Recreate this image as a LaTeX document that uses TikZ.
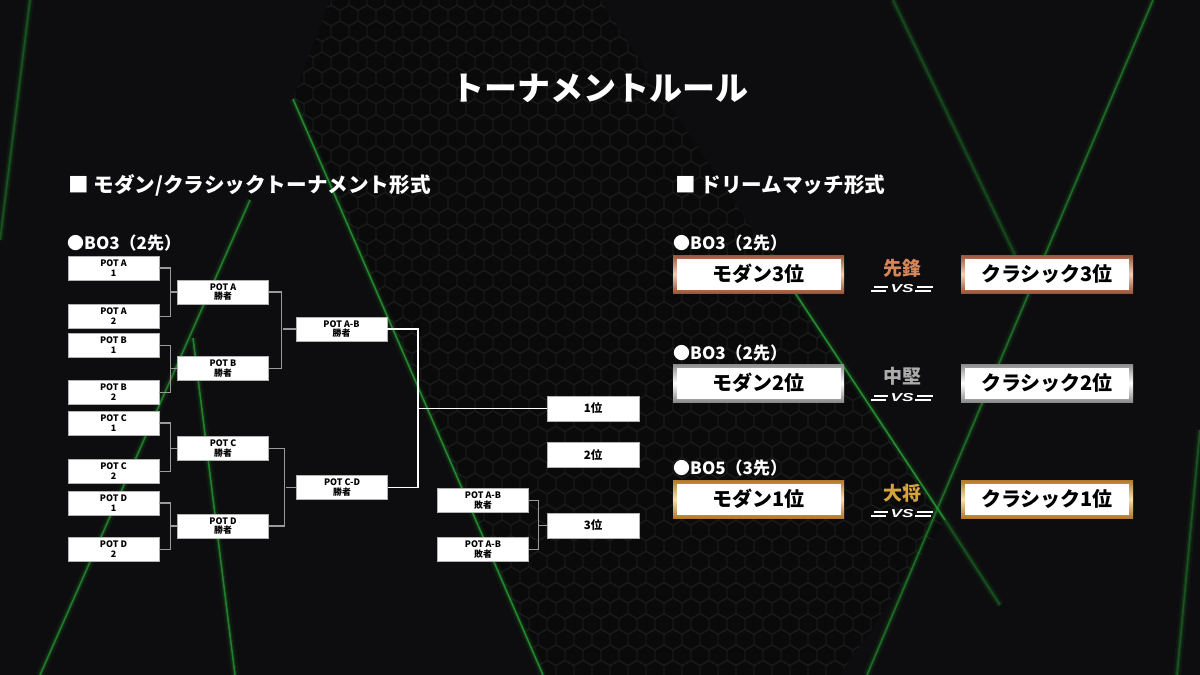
\documentclass[tikz,border=0pt]{standalone}
\usepackage{fontspec}
\usepackage{graphicx}
\setmainfont{Noto Sans CJK JP}
\newfontfamily\vsf{Liberation Sans}
\usetikzlibrary{calc}
\definecolor{bgc}{HTML}{0D0D0F}
\definecolor{hexbg}{HTML}{0A0A0B}
\definecolor{hexln}{HTML}{18191B}
\definecolor{gcore}{HTML}{2C9C36}
\definecolor{gglow}{HTML}{1A6A22}
\definecolor{cpd}{HTML}{9C5537}
\definecolor{cpl}{HTML}{F4CDB6}
\definecolor{svd}{HTML}{8A8A8A}
\definecolor{svl}{HTML}{FFFFFF}
\definecolor{gdd}{HTML}{B07A28}
\definecolor{gdl}{HTML}{F8E2A6}
\definecolor{cptxt}{HTML}{D9855A}
\definecolor{svtxt}{HTML}{ABABAB}
\definecolor{gdtxt}{HTML}{D6A43C}
\definecolor{connc}{HTML}{9A9A9A}
\begin{document}
\begin{tikzpicture}[x=1pt,y=-1pt,
  pbox/.style={draw=gray!60, fill=white, minimum width=91, minimum height=24, inner sep=0, align=center,
    text=black, font=\bfseries\fontsize{8.9}{9.8}\selectfont},
  rbox/.style={draw=gray!60, fill=white, minimum width=92, minimum height=25, inner sep=0,
    text=black, font=\bfseries\fontsize{11.5}{12}\selectfont},
  conn/.style={draw=connc, line width=1.3pt},
  fconn/.style={draw=white, line width=1.6pt},
  mbox/.style={fill=white, minimum width=164, minimum height=31, inner sep=0, text=black,
    font=\bfseries\fontsize{20}{22}\selectfont},
  head/.style={anchor=west, inner sep=0, text=white, font=\bfseries\fontsize{20.6}{22}\selectfont},
  bo/.style={anchor=west, inner sep=0, text=white, font=\bfseries\fontsize{17}{19}\selectfont},
  rank/.style={inner sep=0, font=\bfseries\fontsize{19}{20}\selectfont},
  vs/.style={inner sep=0, text=white, font=\vsf\bfseries\itshape\fontsize{11.5}{12}\selectfont},
  bar/.style={draw=white, line width=1.7pt},
  hexline/.style={draw=hexln, line width=1.3pt},
  gline/.style={draw=gcore, line width=1.5pt,
    preaction={draw=gglow, line width=8pt, opacity=0.12},
    preaction={draw=gglow, line width=4pt, opacity=0.3}}
]
\useasboundingbox (0,0) rectangle (1200,675);
\fill[bgc] (0,0) rectangle (1200,675);

% hexagon texture region
\begin{scope}
  \clip (330,0) -- (293,99) -- (543,675) -- (840,675) -- (945,520) -- (600,0) -- cycle;
  \fill[hexbg] (0,0) rectangle (1200,675);
  \foreach \j in {0,...,44}{
    \draw[hexline] \foreach \i in {0,...,37}{
      ({286+\i*18+mod(\j,2)*9},{\j*15.6}) +(90:10.4) -- +(30:10.4) -- +(-30:10.4)
      -- +(-90:10.4) -- +(-150:10.4) -- +(150:10.4) -- cycle };
  }
\end{scope}

% green light lines
\draw[gline, opacity=0.35] (30,0) -- (0,240);
\draw[gline, opacity=0.8] (293,99) -- (543,675);
\draw[gline, opacity=0.7] (250,200) -- (40,675);
\draw[gline, opacity=0.75] (193,338) -- (235,675);
\draw[gline, opacity=0.55] (1153,0) -- (867,675);
\draw[gline, opacity=0.22] (893,0) -- (1015,255);
\draw[gline, opacity=0.85] (770,255) -- (945,520);
\draw[gline, opacity=0.3] (945,520) -- (1000,605);
\draw[gline, opacity=0.35] (1200,430) -- (1177,675);

% title and headings
\node[inner sep=0, text=white, font=\bfseries\fontsize{33}{38}\selectfont] (title) at (600,88) {トーナメントルール};
\node[head] (hl) at (68,185) {■ モダン/クラシックトーナメント形式};
\node[head] (hr) at (675,185) {■ ドリームマッチ形式};
\node[bo] (bol) at (67,243) {●BO3（2先）};

% bracket round 1
\node[pbox] (a1) at (113.5,268) {POT A\\1};
\node[pbox] (a2) at (113.5,316.5) {POT A\\2};
\node[pbox] (b1) at (113.5,345.5) {POT B\\1};
\node[pbox] (b2) at (113.5,392.5) {POT B\\2};
\node[pbox] (c1) at (113.5,423) {POT C\\1};
\node[pbox] (c2) at (113.5,471.5) {POT C\\2};
\node[pbox] (d1) at (113.5,503) {POT D\\1};
\node[pbox] (d2) at (113.5,549.5) {POT D\\2};
% round 2
\node[pbox] (ra) at (223,292) {POT A\\勝者};
\node[pbox] (rb) at (223,368.5) {POT B\\勝者};
\node[pbox] (rc) at (223,448.5) {POT C\\勝者};
\node[pbox] (rd) at (223,526) {POT D\\勝者};
% round 3
\node[pbox] (ab) at (341.5,329) {POT A-B\\勝者};
\node[pbox] (cd) at (342,487.5) {POT C-D\\勝者};
% placings
\node[rbox] (p1) at (593,408.5) {1位};
\node[rbox] (p2) at (593,455) {2位};
\node[rbox] (p3) at (593,525.5) {3位};
\node[pbox] (l1) at (483,500.5) {POT A-B\\敗者};
\node[pbox] (l2) at (483,549.5) {POT A-B\\敗者};

% connectors round 1 -> 2
\draw[conn] (a1.east) -- ++(11,0) |- (a2.east);
\draw[conn] (ra.west) -- ++(-7,0);
\draw[conn] (b1.east) -- ++(11,0) |- (b2.east);
\draw[conn] (rb.west) -- ++(-7,0);
\draw[conn] (c1.east) -- ++(11,0) |- (c2.east);
\draw[conn] (rc.west) -- ++(-7,0);
\draw[conn] (d1.east) -- ++(11,0) |- (d2.east);
\draw[conn] (rd.west) -- ++(-7,0);
% round 2 -> 3
\draw[conn] (ra.east) -- ++(13,0) |- (rb.east);
\draw[conn] (ab.west) -- ++(-13,0);
\draw[conn] (rc.east) -- ++(16,0) |- (rd.east);
\draw[conn] (cd.west) -- ++(-10,0);
% final
\coordinate (jf) at ([xshift=31]ab.east);
\draw[fconn] (ab.east) -- (jf) |- (cd.east);
\draw[fconn] (p1.west) -- (p1.west -| jf);
% third place
\draw[conn] (l1.east) -- ++(10,0) |- (l2.east);
\draw[conn] (p3.west) -- ++(-8,0);

% dream match
\node[bo] (bo1) at (673,243) {●BO3（2先）};
\node[bo] (bo2) at (673,353) {●BO3（2先）};
\node[bo] (bo3) at (673,468) {●BO5（3先）};

% frames
\shade[top color=cpd, bottom color=cpd, middle color=cpl] (673,255) rectangle (844,293);
\shade[top color=cpd, bottom color=cpd, middle color=cpl] (961,255) rectangle (1133,293);
\shade[top color=svd, bottom color=svd, middle color=svl] (673,364) rectangle (844,402);
\shade[top color=svd, bottom color=svd, middle color=svl] (961,364) rectangle (1133,402);
\shade[top color=gdd, bottom color=gdd, middle color=gdl] (673,480) rectangle (844,518);
\shade[top color=gdd, bottom color=gdd, middle color=gdl] (961,480) rectangle (1133,518);

\node[mbox] (m3) at (758.5,274) {モダン3位};
\node[mbox] (k3) at (1047,274) {クラシック3位};
\node[mbox] (m2) at (758.5,383) {モダン2位};
\node[mbox] (k2) at (1047,383) {クラシック2位};
\node[mbox] (m1) at (758.5,499) {モダン1位};
\node[mbox] (k1) at (1047,499) {クラシック1位};

\node[rank, text=cptxt] (t3) at (902,268) {先鋒};
\node[rank, text=svtxt] (t2) at (902,376) {中堅};
\node[rank, text=gdtxt] (t1) at (902,493) {大将};

\foreach \n/\yy in {vsa/289, vsb/398, vsc/514}{
  \node[vs] (\n) at (902,\yy) {\scalebox{1.5}[1]{VS}};
  \draw[bar] (874,\yy-2.3) -- (888,\yy-2.3);
  \draw[bar] (871,\yy+2.3) -- (886,\yy+2.3);
  \draw[bar] (917,\yy-2.3) -- (933,\yy-2.3);
  \draw[bar] (915,\yy+2.3) -- (931,\yy+2.3);
}
\end{tikzpicture}
\end{document}
